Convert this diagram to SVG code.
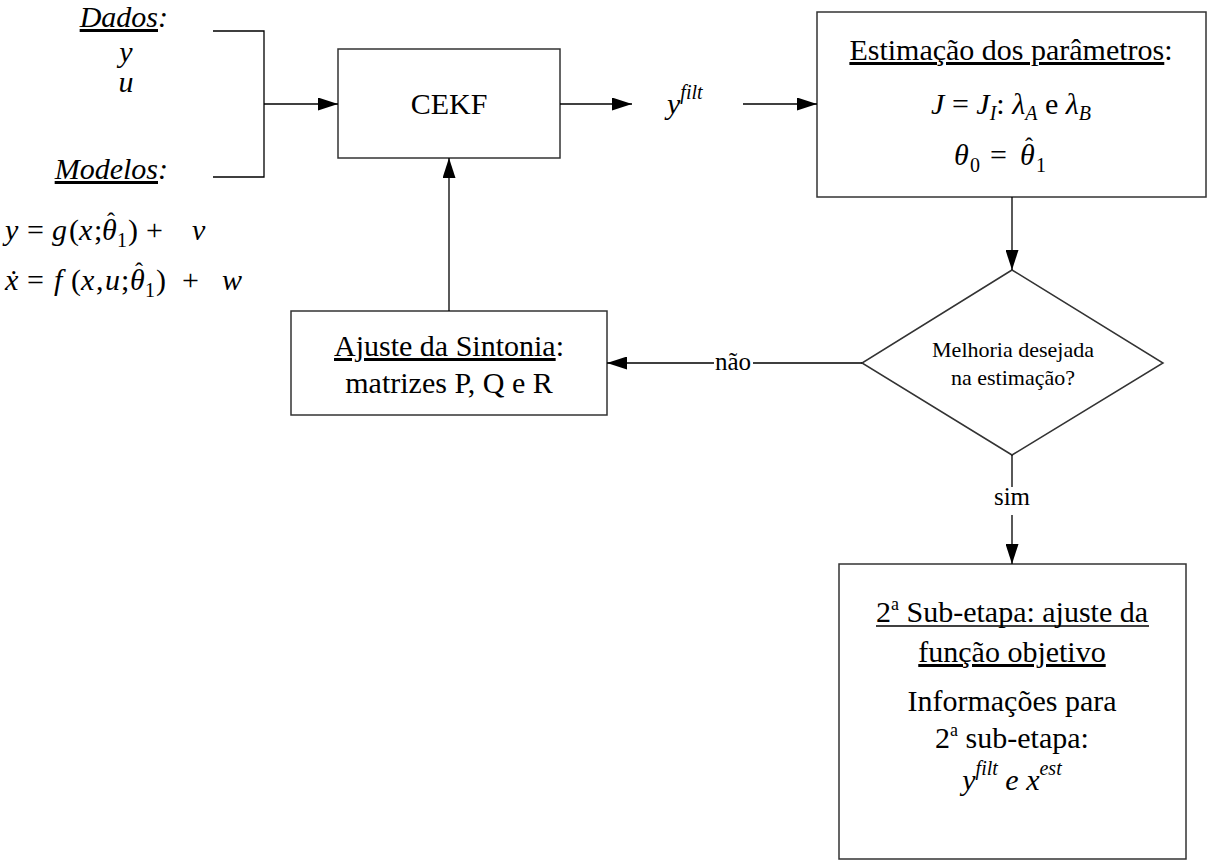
<svg xmlns="http://www.w3.org/2000/svg" width="1208" height="861" viewBox="0 0 1208 861">
<defs>
<marker id="arr" markerUnits="userSpaceOnUse" markerWidth="20" markerHeight="13" refX="20" refY="6.5" orient="auto">
<path d="M0,0 L20,6.5 L0,13 z" fill="#000"/>
</marker>
<style>
.box{fill:#fff;stroke:#333;stroke-width:1.5}
.ln{fill:none;stroke:#000;stroke-width:1.3}
.t{font-family:"Liberation Serif","Times New Roman",serif;fill:#000}
.i{font-style:italic}
.u{text-decoration:underline}
</style>
</defs>
<rect width="1208" height="861" fill="#fff"/>

<g id="inputs">
<text class="t i" font-size="30" x="168" y="27" text-anchor="end"><tspan class="u">Dados</tspan>:</text>
<text class="t i" font-size="30" x="126" y="62" text-anchor="middle">y</text>
<text class="t i" font-size="30" x="126" y="92" text-anchor="middle">u</text>
<text class="t i" font-size="30" x="168" y="179" text-anchor="end"><tspan class="u">Modelos</tspan>:</text>
<g id="eq1" class="t" font-size="30">
<text x="5" y="240" class="i">y</text>
<text x="27" y="240">=</text>
<text x="52" y="240" class="i">g</text>
<text x="69" y="240">(</text>
<text x="79" y="240" class="i">x</text>
<text x="94" y="240">;</text>
<text x="102" y="240" class="i">θ</text>
<text x="111" y="229" text-anchor="middle" font-size="24">ˆ</text>
<text x="117" y="247" font-size="20">1</text>
<text x="128" y="240">)</text>
<text x="146" y="240">+</text>
<text x="192" y="240" class="i">v</text>
</g>
<g id="eq2" class="t" font-size="30">
<text x="5" y="290" class="i">ẋ</text>
<text x="27" y="290">=</text>
<text x="54" y="290" class="i">f</text>
<text x="71" y="290">(</text>
<text x="81" y="290" class="i">x</text>
<text x="96" y="290">,</text>
<text x="105" y="290" class="i">u</text>
<text x="121" y="290">;</text>
<text x="130" y="290" class="i">θ</text>
<text x="139" y="279" text-anchor="middle" font-size="24">ˆ</text>
<text x="145" y="297" font-size="20">1</text>
<text x="156" y="290">)</text>
<text x="182" y="290">+</text>
<text x="222" y="290" class="i">w</text>
</g>
</g>

<g id="cekf">
<rect class="box" x="338" y="49" width="222" height="109"/>
<text class="t" font-size="30" x="449" y="114" text-anchor="middle">CEKF</text>
</g>

<g id="yfilt">
<text class="t i" font-size="30" x="667" y="114">y<tspan font-size="20" dy="-15">filt</tspan></text>
</g>

<g id="estimacao">
<rect class="box" x="817" y="12" width="389" height="185"/>
<text class="t" font-size="30" x="1011" y="60" text-anchor="middle"><tspan class="u">Estimação dos parâmetros</tspan>:</text>
<text class="t" font-size="30" x="1011" y="114" text-anchor="middle"><tspan class="i">J</tspan> = <tspan class="i">J</tspan><tspan class="i" font-size="20" dy="6">I</tspan><tspan dy="-6">: </tspan><tspan class="i">λ</tspan><tspan class="i" font-size="20" dy="6">A</tspan><tspan dy="-6"> e </tspan><tspan class="i">λ</tspan><tspan class="i" font-size="20" dy="6">B</tspan></text>
<g class="t" font-size="30">
<text x="954" y="165" class="i">θ</text>
<text x="970" y="172" font-size="20">0</text>
<text x="990" y="165">=</text>
<text x="1020" y="165" class="i">θ</text>
<text x="1029" y="154" text-anchor="middle" font-size="24">ˆ</text>
<text x="1036" y="172" font-size="20">1</text>
</g>
</g>

<g id="decisao">
<polygon class="box" points="1012,270 1163,363 1012,455 862,363"/>
<text class="t" font-size="22" x="1013" y="357" text-anchor="middle">Melhoria desejada</text>
<text class="t" font-size="22" x="1013" y="385" text-anchor="middle">na estimação?</text>
</g>

<g id="ajuste">
<rect class="box" x="291" y="311" width="316" height="104"/>
<text class="t" font-size="30" x="449" y="356" text-anchor="middle"><tspan class="u">Ajuste da Sintonia</tspan>:</text>
<text class="t" font-size="30" x="449" y="393" text-anchor="middle">matrizes P, Q e R</text>
</g>

<g id="subetapa">
<rect class="box" x="839" y="564" width="347" height="295"/>
<text class="t" font-size="30" x="876" y="622">2<tspan font-size="18" dy="-12">a</tspan><tspan dy="12"> Sub-etapa: ajuste da</tspan></text>
<line x1="876" y1="626" x2="1149" y2="626" stroke="#000" stroke-width="1.5"/>
<text class="t u" font-size="30" x="1012" y="662" text-anchor="middle">função objetivo</text>
<text class="t" font-size="30" x="1012" y="711" text-anchor="middle">Informações para</text>
<text class="t" font-size="30" x="1012" y="748" text-anchor="middle">2<tspan font-size="18" dy="-12">a</tspan><tspan dy="12"> sub-etapa:</tspan></text>
<text class="t i" font-size="30" x="1012" y="790" text-anchor="middle">y<tspan font-size="20" dy="-15">filt</tspan><tspan dy="15"> e x</tspan><tspan font-size="20" dy="-15">est</tspan></text>
</g>

<g id="connectors">
<path class="ln" d="M213,31 H264 V177 H213"/>
<path class="ln" d="M264,104 H338" marker-end="url(#arr)"/>
<path class="ln" d="M560,104 H632" marker-end="url(#arr)"/>
<path class="ln" d="M743,104 H817" marker-end="url(#arr)"/>
<path class="ln" d="M1012,197 V270" marker-end="url(#arr)"/>
<path class="ln" d="M862,363 H753 M714,363 H607" marker-end="url(#arr)"/>
<text class="t" font-size="25" x="733" y="370" text-anchor="middle">não</text>
<path class="ln" d="M449,311 V158" marker-end="url(#arr)"/>
<path class="ln" d="M1012,455 V487 M1012,515 V564" marker-end="url(#arr)"/>
<text class="t" font-size="25" x="1012" y="505" text-anchor="middle">sim</text>
</g>
</svg>
